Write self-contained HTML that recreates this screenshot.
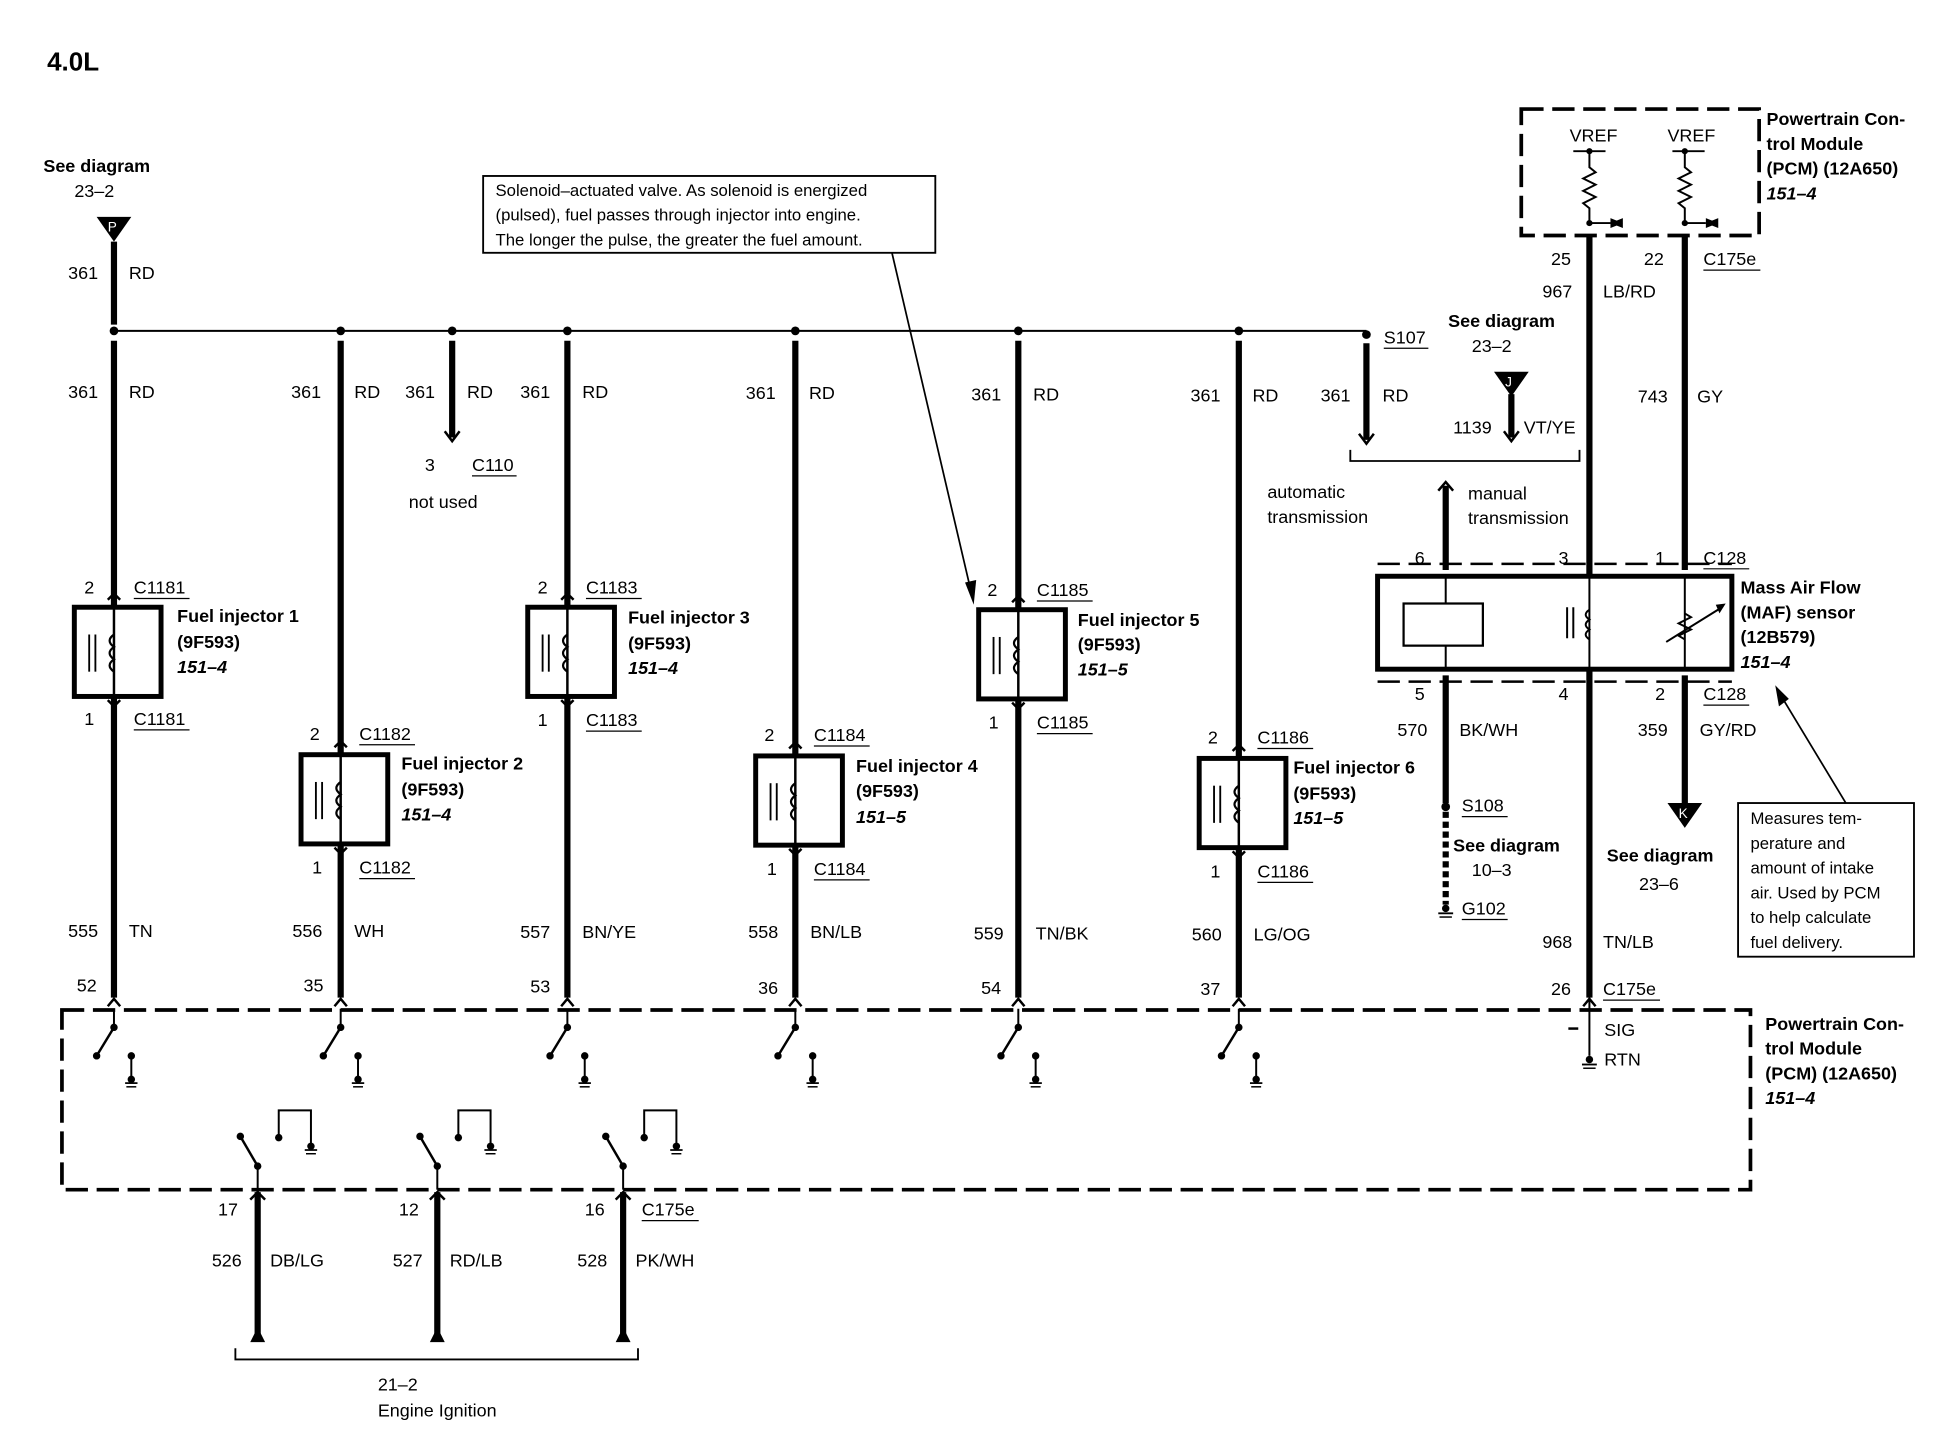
<!DOCTYPE html>
<html><head><meta charset="utf-8"><style>
html,body{margin:0;padding:0;background:#fff;}
svg{display:block;}
text{font-family:"Liberation Sans",sans-serif;font-size:14.5px;fill:#000;}
.b{font-weight:bold;}
.i{font-weight:bold;font-style:italic;}
.w{stroke:#000;stroke-width:5;fill:none;}
.t{stroke:#000;stroke-width:1.6;fill:none;}
.d{stroke:#000;stroke-width:3;fill:none;stroke-dasharray:18 7;}
.u{stroke:#000;stroke-width:1;}
</style></head><body>
<svg width="1940" height="1440" viewBox="0 0 1566 1162" preserveAspectRatio="none" xmlns="http://www.w3.org/2000/svg">
<defs>
<g id="inj">
<rect x="-32" y="0" width="70" height="72" stroke="#000" stroke-width="4" fill="#fff"/>
<line x1="0" y1="0" x2="0" y2="72" stroke="#000" stroke-width="2"/>
<line x1="-20" y1="22" x2="-20" y2="52" stroke="#000" stroke-width="1.5"/>
<line x1="-15" y1="22" x2="-15" y2="52" stroke="#000" stroke-width="1.5"/>
<path d="M0,22 q-7,5 0,10 q-7,5 0,10 q-7,5 0,10" stroke="#000" stroke-width="1.8" fill="none"/>
<path d="M-5,-6 L0,-11 L5,-6" stroke="#000" stroke-width="2" fill="none"/>
<path d="M-5,75 L0,80 L5,75" stroke="#000" stroke-width="2" fill="none"/>
</g>
<g id="sw">
<line x1="0" y1="814" x2="0" y2="828" stroke="#000" stroke-width="1.6"/>
<circle cx="0" cy="829" r="3"/>
<line x1="0" y1="829" x2="-14" y2="852" stroke="#000" stroke-width="2"/>
<circle cx="-14" cy="852" r="3"/>
<circle cx="14" cy="852" r="3"/>
<line x1="14" y1="852" x2="14" y2="870" stroke="#000" stroke-width="1.6"/>
<circle cx="14" cy="871" r="3"/>
<line x1="9" y1="874" x2="19" y2="874" stroke="#000" stroke-width="1.4"/>
<line x1="10" y1="877" x2="18" y2="877" stroke="#000" stroke-width="1.2"/>
</g>
<g id="isw">
<line x1="0" y1="960" x2="0" y2="942" stroke="#000" stroke-width="1.6"/>
<circle cx="0" cy="941" r="3"/>
<line x1="0" y1="941" x2="-14" y2="917" stroke="#000" stroke-width="2"/>
<circle cx="-14" cy="917" r="3"/>
<circle cx="17" cy="918" r="3"/>
<path d="M17,918 V896 H43 V924" stroke="#000" stroke-width="1.6" fill="none"/>
<circle cx="43" cy="925" r="3"/>
<line x1="38" y1="928" x2="48" y2="928" stroke="#000" stroke-width="1.4"/>
<line x1="39" y1="931" x2="47" y2="931" stroke="#000" stroke-width="1.2"/>
</g>
</defs>

<text x="38" y="57" class="b" style="font-size:21px">4.0L</text>
<text x="35" y="139" class="b">See diagram</text>
<text x="60" y="159">23–2</text>
<path d="M78,175 L106,175 L92,195 Z"/>
<text x="87" y="187" style="font-size:11px;fill:#fff">P</text>

<!-- bus -->
<line x1="92" y1="267" x2="1103" y2="267" class="t"/>
<g fill="#000">
<circle cx="92" cy="267" r="3.5"/><circle cx="275" cy="267" r="3.5"/><circle cx="365" cy="267" r="3.5"/>
<circle cx="458" cy="267" r="3.5"/><circle cx="642" cy="267" r="3.5"/><circle cx="822" cy="267" r="3.5"/>
<circle cx="1000" cy="267" r="3.5"/><circle cx="1103" cy="270" r="3.5"/>
</g>

<!-- column wires -->
<path class="w" d="M92,195 V262 M92,275 V805 M275,275 V805 M365,275 V353 M458,275 V805 M642,275 V805 M822,275 V805 M1000,275 V805 M1103,277 V355"/>
<path d="M359,348 L365,356 L371,348" stroke="#000" stroke-width="2" fill="none"/>
<path d="M1097,350 L1103,358 L1109,350" stroke="#000" stroke-width="2" fill="none"/>

<use href="#inj" x="92" y="490"/>
<use href="#inj" x="275" y="609"/>
<use href="#inj" x="458" y="490"/>
<use href="#inj" x="642" y="610"/>
<use href="#inj" x="822" y="492"/>
<use href="#inj" x="1000" y="612"/>

<g>
<text x="55" y="225">361</text><text x="104" y="225">RD</text>
<text x="55" y="321">361</text><text x="104" y="321">RD</text>
<text x="235" y="321">361</text><text x="286" y="321">RD</text>
<text x="327" y="321">361</text><text x="377" y="321">RD</text>
<text x="420" y="321">361</text><text x="470" y="321">RD</text>
<text x="602" y="322">361</text><text x="653" y="322">RD</text>
<text x="784" y="323">361</text><text x="834" y="323">RD</text>
<text x="961" y="324">361</text><text x="1011" y="324">RD</text>
<text x="1066" y="324">361</text><text x="1116" y="324">RD</text>
<text x="343" y="380">3</text><text x="381" y="380">C110</text><line x1="381" y1="384" x2="417" y2="384" class="u"/>
<text x="330" y="410">not used</text>
<text x="1117" y="277">S107</text><line x1="1117" y1="281" x2="1153" y2="281" class="u"/>
</g>

<!-- injector labels -->
<g>
<text x="68" y="479">2</text><text x="108" y="479">C1181</text><line x1="108" y1="483" x2="153" y2="483" class="u"/>
<text x="143" y="502" class="b">Fuel injector 1</text><text x="143" y="523" class="b">(9F593)</text><text x="143" y="543" class="i">151–4</text>
<text x="68" y="585">1</text><text x="108" y="585">C1181</text><line x1="108" y1="589" x2="153" y2="589" class="u"/>

<text x="250" y="597">2</text><text x="290" y="597">C1182</text><line x1="290" y1="601" x2="335" y2="601" class="u"/>
<text x="324" y="621" class="b">Fuel injector 2</text><text x="324" y="642" class="b">(9F593)</text><text x="324" y="662" class="i">151–4</text>
<text x="252" y="705">1</text><text x="290" y="705">C1182</text><line x1="290" y1="709" x2="335" y2="709" class="u"/>

<text x="434" y="479">2</text><text x="473" y="479">C1183</text><line x1="473" y1="483" x2="518" y2="483" class="u"/>
<text x="507" y="503" class="b">Fuel injector 3</text><text x="507" y="524" class="b">(9F593)</text><text x="507" y="544" class="i">151–4</text>
<text x="434" y="586">1</text><text x="473" y="586">C1183</text><line x1="473" y1="590" x2="518" y2="590" class="u"/>

<text x="617" y="598">2</text><text x="657" y="598">C1184</text><line x1="657" y1="602" x2="702" y2="602" class="u"/>
<text x="691" y="623" class="b">Fuel injector 4</text><text x="691" y="643" class="b">(9F593)</text><text x="691" y="664" class="i">151–5</text>
<text x="619" y="706">1</text><text x="657" y="706" >C1184</text><line x1="657" y1="710" x2="702" y2="710" class="u"/>

<text x="797" y="481">2</text><text x="837" y="481">C1185</text><line x1="837" y1="485" x2="882" y2="485" class="u"/>
<text x="870" y="505" class="b">Fuel injector 5</text><text x="870" y="525" class="b">(9F593)</text><text x="870" y="545" class="i">151–5</text>
<text x="798" y="588">1</text><text x="837" y="588">C1185</text><line x1="837" y1="592" x2="882" y2="592" class="u"/>

<text x="975" y="600">2</text><text x="1015" y="600">C1186</text><line x1="1015" y1="604" x2="1060" y2="604" class="u"/>
<text x="1044" y="624" class="b">Fuel injector 6</text><text x="1044" y="645" class="b">(9F593)</text><text x="1044" y="665" class="i">151–5</text>
<text x="977" y="708">1</text><text x="1015" y="708">C1186</text><line x1="1015" y1="712" x2="1060" y2="712" class="u"/>
</g>

<g>
<text x="55" y="756">555</text><text x="104" y="756">TN</text>
<text x="236" y="756">556</text><text x="286" y="756">WH</text>
<text x="420" y="757">557</text><text x="470" y="757">BN/YE</text>
<text x="604" y="757">558</text><text x="654" y="757">BN/LB</text>
<text x="786" y="758">559</text><text x="836" y="758">TN/BK</text>
<text x="962" y="759">560</text><text x="1012" y="759">LG/OG</text>
<text x="62" y="800">52</text><text x="245" y="800">35</text><text x="428" y="801">53</text>
<text x="612" y="802">36</text><text x="792" y="802">54</text><text x="969" y="803">37</text>
</g>

<!-- top callout -->
<rect x="390" y="142" width="365" height="62" stroke="#000" stroke-width="1.5" fill="#fff"/>
<text x="400" y="158" style="font-size:13.5px">Solenoid–actuated valve. As solenoid is energized</text>
<text x="400" y="178" style="font-size:13.5px">(pulsed), fuel passes through injector into engine.</text>
<text x="400" y="198" style="font-size:13.5px">The longer the pulse, the greater the fuel amount.</text>
<line x1="720" y1="204" x2="784" y2="478" stroke="#000" stroke-width="1.4"/>
<path d="M779,470 L786,488 L788,468 Z"/>

<!-- top PCM -->
<rect x="1228" y="88" width="192" height="102" class="d"/>
<text x="1267" y="114">VREF</text><text x="1346" y="114">VREF</text>
<g stroke="#000" stroke-width="1.6" fill="none">
<path d="M1270,122 H1296 M1350,122 H1376"/>
<path d="M1283,122 V135 l5,4 l-10,5 l10,5 l-10,5 l10,5 l-10,5 l5,4 V180 H1300"/>
<path d="M1360,122 V135 l5,4 l-10,5 l10,5 l-10,5 l10,5 l-10,5 l5,4 V180 H1377"/>
</g>
<path d="M1300,176 L1310,180 L1300,184 Z M1377,176 L1387,180 L1377,184 Z" transform="translate(0,0)"/>
<path d="M1310,176 L1300,180 L1310,184 Z M1387,176 L1377,180 L1387,184 Z"/>
<circle cx="1283" cy="122" r="2.5"/><circle cx="1360" cy="122" r="2.5"/>
<circle cx="1283" cy="180" r="2.5"/><circle cx="1360" cy="180" r="2.5"/>
<text x="1426" y="101" class="b">Powertrain Con-</text>
<text x="1426" y="121" class="b">trol Module</text>
<text x="1426" y="141" class="b">(PCM) (12A650)</text>
<text x="1426" y="161" class="i">151–4</text>

<path class="w" d="M1283,190 V805 M1360,190 V460 M1360,545 V648"/>
<path d="M1283,190 V205" stroke="#000" stroke-width="2"/>
<text x="1252" y="214">25</text><text x="1327" y="214">22</text>
<text x="1375" y="214">C175e</text><line x1="1375" y1="218" x2="1421" y2="218" class="u"/>
<text x="1245" y="240">967</text><text x="1294" y="240">LB/RD</text>
<text x="1322" y="325">743</text><text x="1370" y="325">GY</text>

<!-- J -->
<text x="1169" y="264" class="b">See diagram</text>
<text x="1188" y="284">23–2</text>
<path d="M1206,300 L1234,300 L1220,320 Z"/>
<text x="1215" y="312" style="font-size:11px;fill:#fff">J</text>
<line x1="1220" y1="318" x2="1220" y2="353" class="w"/>
<path d="M1214,348 L1220,356 L1226,348" stroke="#000" stroke-width="2" fill="none"/>
<text x="1173" y="350">1139</text><text x="1230" y="350">VT/YE</text>
<path d="M1090,363 V372 H1275 V363" stroke="#000" stroke-width="1.5" fill="none"/>
<text x="1023" y="402">automatic</text><text x="1023" y="422">transmission</text>
<text x="1185" y="403">manual</text><text x="1185" y="423">transmission</text>
<path class="w" d="M1167,392 V460"/>
<path d="M1161,396 L1167,389 L1173,396" stroke="#000" stroke-width="2" fill="none"/>

<!-- MAF -->
<rect x="1112" y="465" width="286" height="75" stroke="#000" stroke-width="4" fill="#fff"/>
<line x1="1112" y1="455" x2="1398" y2="455" class="d" style="stroke-width:2"/>
<line x1="1112" y1="550" x2="1398" y2="550" class="d" style="stroke-width:2"/>
<g stroke="#000" stroke-width="1.6" fill="none">
<path d="M1167,465 V540 M1283,465 V540 M1360,465 V540"/>
<path d="M1265,490 V515 M1270,490 V515"/>
<path d="M1283,492 q-6,4 0,8 q-6,4 0,8 q-6,4 0,8"/>
<path d="M1360,495 l5,3 l-10,5 l10,5 l-10,5 l5,3"/>
<path d="M1345,518 L1390,490"/>
</g>
<rect x="1133" y="487" width="64" height="34" stroke="#000" stroke-width="1.8" fill="#fff"/>
<path d="M1385,488 L1393,487 L1388,495 Z"/>
<text x="1142" y="455">6</text><text x="1258" y="455">3</text><text x="1336" y="455">1</text>
<text x="1375" y="455">C128</text><line x1="1375" y1="459" x2="1412" y2="459" class="u"/>
<text x="1142" y="565">5</text><text x="1258" y="565">4</text><text x="1336" y="565">2</text>
<text x="1375" y="565">C128</text><line x1="1375" y1="569" x2="1412" y2="569" class="u"/>
<text x="1405" y="479" class="b">Mass Air Flow</text>
<text x="1405" y="499" class="b">(MAF) sensor</text>
<text x="1405" y="519" class="b">(12B579)</text>
<text x="1405" y="539" class="i">151–4</text>

<path class="w" d="M1167,545 V648"/>
<path class="w" d="M1167,655 V730" style="stroke-dasharray:5 3"/>
<circle cx="1167" cy="651" r="3.5"/>
<text x="1128" y="594">570</text><text x="1178" y="594">BK/WH</text>
<text x="1180" y="655">S108</text><line x1="1180" y1="659" x2="1217" y2="659" class="u"/>
<text x="1173" y="687" class="b">See diagram</text><text x="1188" y="707">10–3</text>
<circle cx="1167" cy="733" r="3"/><line x1="1161" y1="737" x2="1173" y2="737" stroke="#000" stroke-width="1.5"/>
<line x1="1162" y1="740" x2="1172" y2="740" stroke="#000" stroke-width="1.2"/>
<text x="1180" y="738">G102</text><line x1="1180" y1="742" x2="1217" y2="742" class="u"/>

<text x="1322" y="594">359</text><text x="1372" y="594">GY/RD</text>
<path d="M1346,648 L1374,648 L1360,668 Z"/>
<text x="1355" y="660" style="font-size:11px;fill:#fff">K</text>
<text x="1297" y="695" class="b">See diagram</text><text x="1323" y="718">23–6</text>
<text x="1245" y="765">968</text><text x="1294" y="765">TN/LB</text>
<text x="1252" y="803">26</text><text x="1294" y="803">C175e</text><line x1="1294" y1="807" x2="1340" y2="807" class="u"/>

<!-- right callout -->
<rect x="1403" y="648" width="142" height="124" stroke="#000" stroke-width="1.5" fill="#fff"/>
<text x="1413" y="665" style="font-size:13.5px">Measures tem-</text>
<text x="1413" y="685" style="font-size:13.5px">perature and</text>
<text x="1413" y="705" style="font-size:13.5px">amount of intake</text>
<text x="1413" y="725" style="font-size:13.5px">air. Used by PCM</text>
<text x="1413" y="745" style="font-size:13.5px">to help calculate</text>
<text x="1413" y="765" style="font-size:13.5px">fuel delivery.</text>
<line x1="1490" y1="648" x2="1438" y2="562" stroke="#000" stroke-width="1.4"/>
<path d="M1433,553 L1436,570 L1444,564 Z"/>

<!-- bottom PCM -->
<rect x="50" y="815" width="1363" height="145" class="d"/>
<text x="1425" y="831" class="b">Powertrain Con-</text>
<text x="1425" y="851" class="b">trol Module</text>
<text x="1425" y="871" class="b">(PCM) (12A650)</text>
<text x="1425" y="891" class="i">151–4</text>
<use href="#sw" x="92" y="0"/><use href="#sw" x="275" y="0"/><use href="#sw" x="458" y="0"/>
<use href="#sw" x="642" y="0"/><use href="#sw" x="822" y="0"/><use href="#sw" x="1000" y="0"/>
<line x1="1283" y1="805" x2="1283" y2="852" stroke="#000" stroke-width="1.6"/>
<circle cx="1283" cy="855" r="3"/><line x1="1277" y1="859" x2="1289" y2="859" stroke="#000" stroke-width="1.5"/><line x1="1278" y1="862" x2="1288" y2="862" stroke="#000" stroke-width="1.2"/>
<line x1="1266" y1="830" x2="1274" y2="830" stroke="#000" stroke-width="2"/>
<text x="1295" y="836">SIG</text><text x="1295" y="860">RTN</text>
<g stroke="#000" stroke-width="2" fill="none">
<path d="M87,812 L92,806 L97,812 M270,812 L275,806 L280,812 M453,812 L458,806 L463,812 M637,812 L642,806 L647,812 M817,812 L822,806 L827,812 M995,812 L1000,806 L1005,812 M1278,812 L1283,806 L1288,812"/>
</g>

<!-- ignition -->
<use href="#isw" x="208" y="0"/><use href="#isw" x="353" y="0"/><use href="#isw" x="503" y="0"/>
<path class="w" d="M208,962 V1080 M353,962 V1080 M503,962 V1080"/>
<path d="M202,1083 L208,1071 L214,1083 Z M347,1083 L353,1071 L359,1083 Z M497,1083 L503,1071 L509,1083 Z"/>
<path d="M202,968 L208,962 L214,968 M347,968 L353,962 L359,968 M497,968 L503,962 L509,968" stroke="#000" stroke-width="2" fill="none"/>
<text x="176" y="981">17</text><text x="322" y="981">12</text><text x="472" y="981">16</text>
<text x="518" y="981">C175e</text><line x1="518" y1="985" x2="564" y2="985" class="u"/>
<text x="171" y="1022">526</text><text x="218" y="1022">DB/LG</text>
<text x="317" y="1022">527</text><text x="363" y="1022">RD/LB</text>
<text x="466" y="1022">528</text><text x="513" y="1022">PK/WH</text>
<path d="M190,1088 V1097 H515 V1088" stroke="#000" stroke-width="1.5" fill="none"/>
<text x="305" y="1122">21–2</text>
<text x="305" y="1143">Engine Ignition</text>
</svg>
</body></html>
